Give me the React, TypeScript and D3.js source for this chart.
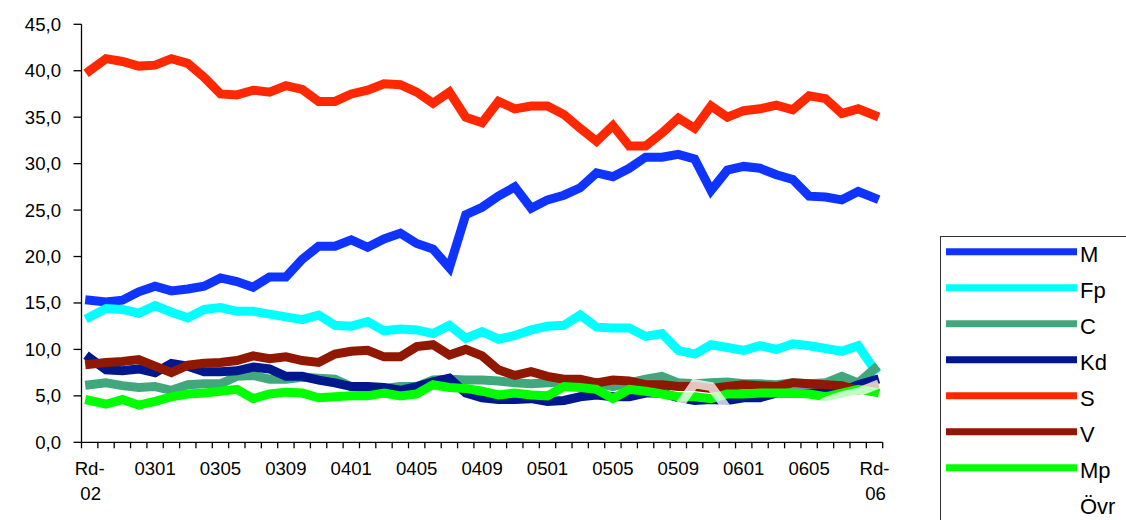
import React from "react";
import * as d3 from "d3";

const categories = [
  "Rd-02", "0210", "0211", "0212",
  "0301", "0302", "0303", "0304", "0305", "0306", "0307", "0308", "0309", "0310", "0311", "0312",
  "0401", "0402", "0403", "0404", "0405", "0406", "0407", "0408", "0409", "0410", "0411", "0412",
  "0501", "0502", "0503", "0504", "0505", "0506", "0507", "0508", "0509", "0510", "0511", "0512",
  "0601", "0602", "0603", "0604", "0605", "0606", "0607", "0608", "Rd-06",
];

const tickLabels = ["Rd-02", "0301", "0305", "0309", "0401", "0405", "0409", "0501", "0505", "0509", "0601", "0605", "Rd-06"];

const yTicks = [0, 5, 10, 15, 20, 25, 30, 35, 40, 45];

const M = [15.3, 15.1, 15.3, 16.2, 16.8, 16.3, 16.5, 16.8, 17.7, 17.3, 16.7, 17.8, 17.8, 19.7, 21.1, 21.1, 21.8, 21.0, 21.9, 22.5, 21.4, 20.8, 18.8, 24.5, 25.3, 26.5, 27.5, 25.2, 26.1, 26.6, 27.4, 29.0, 28.6, 29.5, 30.7, 30.7, 31.0, 30.5, 27.1, 29.3, 29.7, 29.5, 28.8, 28.3, 26.5, 26.4, 26.1, 27.0, 26.3];
const Fp = [13.5, 14.4, 14.3, 13.9, 14.7, 14.0, 13.4, 14.3, 14.5, 14.1, 14.1, 13.8, 13.5, 13.2, 13.7, 12.6, 12.5, 13.0, 12.0, 12.2, 12.1, 11.7, 12.6, 11.2, 11.9, 11.1, 11.5, 12.1, 12.5, 12.6, 13.7, 12.4, 12.3, 12.3, 11.4, 11.7, 9.9, 9.5, 10.5, 10.2, 9.9, 10.4, 10.0, 10.6, 10.4, 10.1, 9.8, 10.4, 7.8];
const C = [6.2, 6.4, 6.1, 5.9, 6.0, 5.6, 6.2, 6.3, 6.3, 7.1, 7.2, 6.8, 6.8, 7.0, 6.9, 6.8, 6.0, 5.8, 5.8, 6.0, 6.0, 6.7, 6.8, 6.7, 6.7, 6.6, 6.4, 6.3, 6.4, 6.5, 6.4, 6.4, 6.0, 6.4, 6.8, 7.1, 6.4, 6.3, 6.4, 6.5, 6.3, 6.3, 6.2, 6.4, 6.3, 6.4, 7.1, 6.4, 7.9];
const Kd = [9.1, 7.8, 7.7, 7.9, 7.5, 8.5, 8.2, 7.6, 7.6, 7.7, 8.1, 7.9, 7.1, 7.1, 6.7, 6.4, 6.0, 6.0, 5.9, 5.6, 6.0, 6.5, 6.9, 5.3, 4.8, 4.6, 4.6, 4.7, 4.4, 4.5, 4.9, 5.1, 4.9, 4.9, 5.3, 5.3, 4.8, 4.5, 4.6, 4.5, 4.8, 4.8, 5.3, 5.3, 5.3, 5.4, 5.5, 6.2, 6.7];
const S = [40.0, 41.3, 41.0, 40.5, 40.6, 41.3, 40.8, 39.3, 37.5, 37.4, 37.9, 37.7, 38.4, 38.0, 36.7, 36.7, 37.5, 37.9, 38.6, 38.5, 37.7, 36.5, 37.7, 35.0, 34.4, 36.7, 35.9, 36.2, 36.2, 35.3, 33.8, 32.4, 34.1, 31.9, 31.9, 33.3, 34.9, 33.8, 36.2, 35.0, 35.7, 35.9, 36.3, 35.8, 37.3, 37.0, 35.4, 35.9, 35.2];
const V = [8.4, 8.6, 8.7, 8.9, 8.2, 7.5, 8.3, 8.5, 8.6, 8.8, 9.3, 9.0, 9.2, 8.8, 8.6, 9.5, 9.8, 9.9, 9.2, 9.2, 10.3, 10.5, 9.4, 10.0, 9.3, 7.8, 7.2, 7.6, 7.1, 6.8, 6.8, 6.4, 6.7, 6.6, 6.2, 6.2, 6.0, 6.0, 5.8, 6.0, 6.2, 6.1, 6.0, 6.4, 6.3, 6.2, 6.1, 5.6, 5.9];
const Mp = [4.5, 4.1, 4.6, 4.0, 4.4, 4.9, 5.2, 5.3, 5.5, 5.7, 4.7, 5.2, 5.4, 5.3, 4.8, 4.9, 5.0, 5.0, 5.3, 5.0, 5.2, 6.2, 5.9, 5.8, 5.5, 5.1, 5.3, 5.1, 5.0, 6.0, 5.9, 5.7, 4.7, 5.7, 5.5, 5.2, 4.9, 4.9, 4.7, 5.2, 5.2, 5.3, 5.3, 5.3, 5.2, 4.9, 5.3, 5.7, 5.4];
const Ovr = [1.5, 2.0, 2.2, 2.4, 2.3, 2.5, 2.6, 2.4, 2.7, 2.8, 2.6, 2.5, 2.7, 2.9, 2.6, 2.8, 3.0, 2.8, 2.7, 2.9, 3.0, 2.8, 2.9, 3.1, 3.0, 2.9, 3.0, 3.2, 3.1, 3.0, 2.9, 3.2, 3.3, 3.1, 3.0, 3.2, 3.8, 6.3, 6.0, 3.6, 3.2, 3.0, 3.1, 3.2, 3.2, 4.4, 5.0, 5.4, 6.1];

const seriesNames = ["M", "Fp", "C", "Kd", "S", "V", "Mp", "Övr"];
const seriesValues = [M, Fp, C, Kd, S, V, Mp, Ovr];
const seriesColors = ["#1034ff", "#00ffff", "#40a87c", "#00188c", "#ff2800", "#901800", "#00ff00", "#ffffff"];

const W = 1126;
const H = 520;
const plotLeft = 81.5;
const plotRight = 882.7;
const plotTop = 24.3;
const plotBottom = 442.3;
const FONT = "'Liberation Sans', Arial, sans-serif";

export default function App() {
  const x = d3.scaleBand<number>().domain(categories.map((_, i) => i)).range([plotLeft, plotRight]).padding(0);
  const y = d3.scaleLinear().domain([0, 45]).range([plotBottom, plotTop]);
  const bw = x.bandwidth();
  const cx = (i: number) => (x(i) as number) + bw / 2;
  const line = d3
    .line<number>()
    .x((_, i) => cx(i))
    .y((d) => y(d));

  const xTickPos = categories.map((_, i) => x(i) as number).concat([plotRight]);

  return (
    <svg width={W} height={H} style={{ position: "absolute", left: 0, top: 0, background: "#fff" }} fontFamily={FONT}>
      <rect x={0} y={0} width={W} height={H} fill="#fff" />
      {/* series */}
      {seriesValues.map((vals, si) => (
        <path
          key={seriesNames[si]}
          d={line(vals) || ""}
          fill="none"
          stroke={seriesColors[si]}
          strokeWidth={9}
          strokeLinecap="square"
          strokeLinejoin="miter"
          strokeMiterlimit={3}
          opacity={si === 7 ? 0.75 : 1}
        />
      ))}
      {/* y axis */}
      <line x1={plotLeft} x2={plotLeft} y1={plotTop} y2={plotBottom} stroke="#000" strokeWidth={1.3} />
      {yTicks.map((t) => (
        <g key={t}>
          <line x1={plotLeft - 8} x2={plotLeft} y1={y(t)} y2={y(t)} stroke="#000" strokeWidth={1.3} />
          <text x={61} y={y(t) + 6.5} textAnchor="end" fontSize={18.6} fill="#000">
            {d3.format(".1f")(t).replace(".", ",")}
          </text>
        </g>
      ))}
      {/* x axis */}
      <line x1={plotLeft} x2={plotRight} y1={plotBottom} y2={plotBottom} stroke="#000" strokeWidth={1.3} />
      {xTickPos.map((p, i) => (
        <line key={i} x1={p} x2={p} y1={plotBottom} y2={plotBottom + 6} stroke="#000" strokeWidth={1.3} />
      ))}
      {tickLabels.map((lab) => {
        const idx = categories.indexOf(lab);
        const px = cx(idx);
        if (lab.startsWith("Rd-")) {
          return (
            <text key={lab} x={px} y={475} textAnchor="middle" fontSize={18.6} fill="#000">
              <tspan x={px} y={475}>Rd-</tspan>
              <tspan x={px + 1} y={500}>{lab.slice(3)}</tspan>
            </text>
          );
        }
        return (
          <text key={lab} x={px} y={475} textAnchor="middle" fontSize={18.6} fill="#000">
            {lab}
          </text>
        );
      })}
      {/* legend */}
      <rect x={940.5} y={236.5} width={220} height={320} fill="#fff" stroke="#333" strokeWidth={1} />
      {seriesNames.map((n, i) => {
        const ly = 251.7 + i * 36;
        return (
          <g key={n}>
            <line x1={946} x2={1077} y1={ly} y2={ly} stroke={seriesColors[i]} strokeWidth={7} />
            <text x={1080} y={ly + 10} fontSize={22} fill="#000">
              {n}
            </text>
          </g>
        );
      })}
    </svg>
  );
}
